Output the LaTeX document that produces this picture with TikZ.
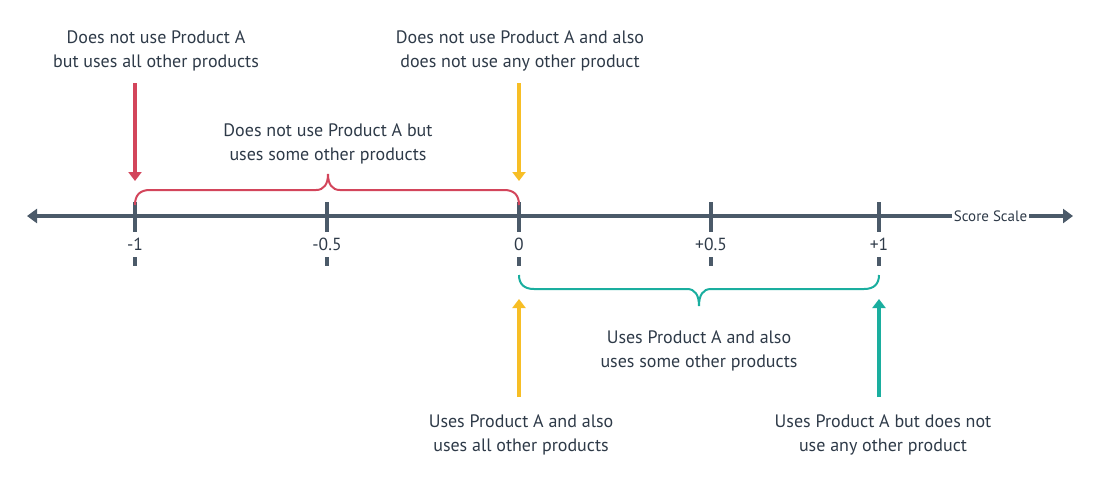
\documentclass[tikz,border=0pt]{standalone}
\usepackage{fontspec}
\setmainfont{PT Sans}
\usetikzlibrary{arrows.meta}
\definecolor{axisc}{HTML}{4B5A69}
\definecolor{textc}{HTML}{2E3A48}
\definecolor{redc}{HTML}{D3455B}
\definecolor{yelc}{HTML}{F7BE25}
\definecolor{tealc}{HTML}{1AAE9F}
\tikzset{
  lbl/.style={text=textc, align=center, inner sep=0pt, font=\fontsize{18}{24}\selectfont},
  ticklbl/.style={text=textc, inner sep=0pt, font=\fontsize{17.5}{20}\selectfont},
  tickmark/.style={draw=axisc, line width=4pt},
  axisline/.style={draw=axisc, line width=4pt},
  ptr/.style={line width=4pt, -{Triangle[width=13pt,length=9pt]}},
  bracec/.style={line width=2pt},
}
\begin{document}
\begin{tikzpicture}[x=1pt,y=-1pt]
\useasboundingbox (0,0) rectangle (1100,480);
% axis
\node[text=textc, inner sep=2pt, font=\fontsize{15}{17}\selectfont] (ss) at (990.5,216) {Score Scale};
\coordinate (L) at (27,216);
\coordinate (R) at (1073,216);
\draw[axisline, -{Triangle[width=14pt,length=10pt]}] (ss.west) -- (L);
\draw[axisline, -{Triangle[width=14pt,length=10pt]}] (ss.east) -- (R);
% ticks and labels
\foreach \x/\t/\n in {135/-1/a,327/-0.5/b,519/0/c,711/+0.5/d,879/+1/e}{
  \coordinate (t\n) at (\x,216);
  \draw[tickmark] (\x,202) -- (\x,232);
  \node[ticklbl] (l\n) at (\x,244) {\t};
  \draw[tickmark] (\x,257) -- (\x,266);
}
% red brace
\draw[redc, bracec] (135,205) .. controls (135,195) and (140,190) .. (150,190) -- (316,190)
  .. controls (324,190) and (328,184) .. (328,174)
  .. controls (328,184) and (332,190) .. (340,190) -- (504,190)
  .. controls (514,190) and (519,195) .. (519,205);
% teal brace
\draw[tealc, bracec] (519,275) .. controls (519,284) and (524,289) .. (534,289) -- (687,289)
  .. controls (695,289) and (699,295) .. (699,306)
  .. controls (699,295) and (703,289) .. (711,289) -- (864,289)
  .. controls (874,289) and (879,284) .. (879,275);
% labels
\node[lbl] (n1) at (156,51) {Does not use Product A\\but uses all other products};
\node[lbl] (n2) at (328,144) {Does not use Product A but\\uses some other products};
\node[lbl] (n3) at (520,51) {Does not use Product A and also\\does not use any other product};
\node[lbl] (n4) at (699,350.5) {Uses Product A and also\\uses some other products};
\node[lbl] (n5) at (521,435) {Uses Product A and also\\uses all other products};
\node[lbl] (n6) at (883,435) {Uses Product A but does not\\use any other product};
% pointers
\coordinate (r0) at (135,83); \coordinate (r1) at (135,181);
\coordinate (y0) at (519,83); \coordinate (y1) at (519,181);
\coordinate (y2) at (519,397); \coordinate (y3) at (519,299);
\coordinate (g0) at (879,397); \coordinate (g1) at (879,299);
\draw[ptr, redc] (r0) -- (r1);
\draw[ptr, yelc] (y0) -- (y1);
\draw[ptr, yelc] (y2) -- (y3);
\draw[ptr, tealc] (g0) -- (g1);
\end{tikzpicture}
\end{document}
